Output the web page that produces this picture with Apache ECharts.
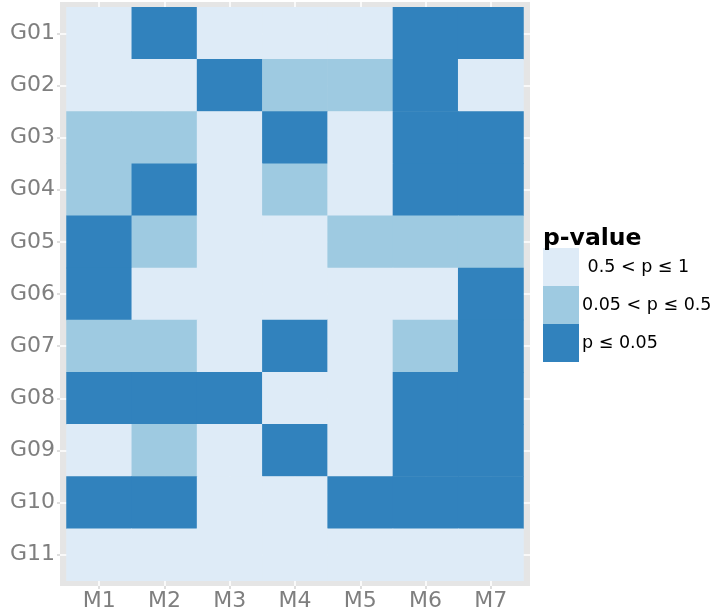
<!DOCTYPE html>
<html>
<head>
<meta charset="utf-8">
<script src="https://cdn.jsdelivr.net/npm/echarts@6/dist/echarts.min.js"></script>
<style>
  html, body { margin: 0; padding: 0; background: #fff; }
  #chart { width: 711px; height: 616px; }
</style>
</head>
<body>
<div id="chart"></div>
<script>
var xCats = ['M1', 'M2', 'M3', 'M4', 'M5', 'M6', 'M7']
var yCats = ['G01', 'G02', 'G03', 'G04', 'G05', 'G06', 'G07', 'G08', 'G09', 'G10', 'G11']
// p-value bin per cell: 0 = 0.5<p≤1, 1 = 0.05<p≤0.5, 2 = p≤0.05
var G01 = [0, 2, 0, 0, 0, 2, 2]
var G02 = [0, 0, 2, 1, 1, 2, 0]
var G03 = [1, 1, 0, 2, 0, 2, 2]
var G04 = [1, 2, 0, 1, 0, 2, 2]
var G05 = [2, 1, 0, 0, 1, 1, 1]
var G06 = [2, 0, 0, 0, 0, 0, 2]
var G07 = [1, 1, 0, 2, 0, 1, 2]
var G08 = [2, 2, 2, 0, 0, 2, 2]
var G09 = [0, 1, 0, 2, 0, 2, 2]
var G10 = [2, 2, 0, 0, 2, 2, 2]
var G11 = [0, 0, 0, 0, 0, 0, 0]
var rows = [G01, G02, G03, G04, G05, G06, G07, G08, G09, G10, G11]
var binLabels = [' 0.5 < p \u2264 1', '0.05 < p \u2264 0.5', 'p \u2264 0.05']
var binColors = ['#deebf7', '#9ecae1', '#3182bd']

var cells = []
rows.forEach(function (row, j) {
    row.forEach(function (v, i) {
        cells.push([i, j, v])
    })
})

var font = 'DejaVu Sans'
var labelColor = '#7f7f7f'
var tickColor = '#d4d4d4'

let myChart = echarts.init(document.getElementById('chart'))
var option = {
    animation: false,
    backgroundColor: '#ffffff',
    title: {
        text: 'p-value',
        left: 538,
        top: 222,
        textStyle: { fontFamily: font, fontSize: 23.5, fontWeight: 'bold', color: '#000' }
    },
    grid: [{
        // panel
        show: true,
        left: 60, right: 181, top: 2, bottom: 30,
        backgroundColor: '#e5e5e5',
        borderWidth: 0
    }, {
        // tiles
        left: 66.5, right: 187.5, top: 7.2, bottom: 35.2
    }],
    xAxis: [{
        gridIndex: 0,
        type: 'value',
        min: 0.4,
        max: 7.6,
        axisLine: { show: false },
        axisTick: { show: true, length: 3, lineStyle: { color: tickColor, width: 1.5 }, customValues: [1, 2, 3, 4, 5, 6, 7] },
        axisLabel: {
            customValues: [1, 2, 3, 4, 5, 6, 7],
            margin: 4,
            fontFamily: font, fontSize: 22, color: labelColor,
            formatter: function (v) { return xCats[Math.round(v) - 1] }
        },
        splitLine: { show: true, lineStyle: { color: '#ffffff', width: 1.5 } }
    }, {
        gridIndex: 1,
        type: 'category',
        data: xCats,
        show: false
    }],
    yAxis: [{
        gridIndex: 0,
        type: 'value',
        inverse: true,
        min: 0.4,
        max: 11.6,
        axisLine: { show: false },
        axisTick: { show: true, length: 3, lineStyle: { color: tickColor, width: 1.5 }, customValues: [1, 2, 3, 4, 5, 6, 7, 8, 9, 10, 11] },
        axisLabel: {
            customValues: [1, 2, 3, 4, 5, 6, 7, 8, 9, 10, 11],
            margin: 5,
            fontFamily: font, fontSize: 22, color: labelColor,
            formatter: function (v) { return yCats[Math.round(v) - 1] }
        },
        splitLine: { show: true, lineStyle: { color: '#ffffff', width: 1.5 } }
    }, {
        gridIndex: 1,
        type: 'category',
        inverse: true,
        data: yCats,
        show: false
    }],
    visualMap: {
        type: 'piecewise',
        seriesIndex: 0,
        dimension: 2,
        orient: 'vertical',
        inverse: true,
        align: 'left',
        left: 543,
        top: 248,
        padding: 0,
        itemWidth: 36,
        itemHeight: 38,
        itemGap: 0,
        textGap: 3,
        itemSymbol: 'rect',
        selectedMode: false,
        hoverLink: false,
        pieces: binLabels.map(function (lab, k) {
            return { value: k, label: lab, color: binColors[k] }
        }),
        textStyle: { fontFamily: font, fontSize: 17.5, color: '#000' }
    },
    series: [{
        type: 'heatmap',
        xAxisIndex: 1,
        yAxisIndex: 1,
        data: cells,
        itemStyle: { borderWidth: 0 },
        emphasis: { disabled: true }
    }]
}
myChart.setOption(option)
</script>
</body>
</html>
